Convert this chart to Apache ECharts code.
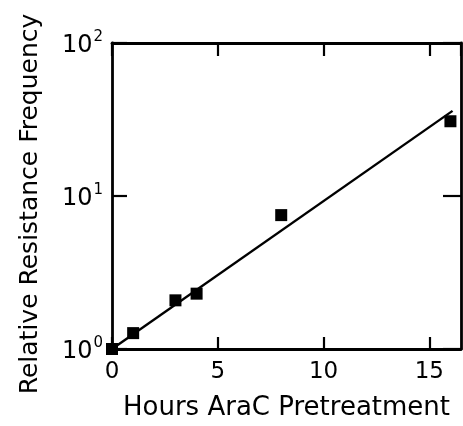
<!DOCTYPE html>
<html>
<head>
<meta charset="utf-8">
<script src="https://cdn.jsdelivr.net/npm/echarts@6/dist/echarts.min.js"></script>
<style>
  html, body { margin: 0; padding: 0; background: #ffffff; }
  #chart { width: 463px; height: 426px; }
</style>
</head>
<body>
<div id="chart"></div>
<script>
// Data
const hours = [0, 1, 3, 4, 8, 16];
const frequency = [1.0, 1.27, 2.08, 2.30, 7.5, 30.8];
const fitHours = [0, 16.1];
const fitFrequency = [1.0, 36];
const xTickLabels = ['0', '5', '10', '15'];
const yTickExponents = ['0', '1', '2'];
const xTitle = 'Hours AraC Pretreatment';
const yTitle = 'Relative Resistance Frequency';

const FONT = 'DejaVu Sans';
const INK = '#000000';

const points = hours.map((h, i) => [h, frequency[i]]);
const fit = fitHours.map((h, i) => [h, fitFrequency[i]]);

const chart = echarts.init(document.getElementById('chart'), null, { renderer: 'canvas' });

const axisLine = { show: true, onZero: false, lineStyle: { color: INK, width: 2.8 } };

chart.setOption({
  backgroundColor: '#ffffff',
  animation: false,
  grid: { left: 112, top: 43, right: 2, bottom: 74, containLabel: false },
  xAxis: [
    {
      type: 'value', position: 'bottom', min: 0, max: 16.5, interval: 5,
      axisLine: axisLine,
      axisTick: { show: true, inside: true, length: 12, lineStyle: { color: INK, width: 2.2 } },
      splitLine: { show: false },
      axisLabel: {
        show: true, margin: 12, color: INK, fontFamily: FONT, fontSize: 23,
        showMaxLabel: false,
        formatter: v => xTickLabels[Math.round(v / 5)] ?? ''
      },
      name: xTitle, nameLocation: 'middle', nameGap: 46,
      nameTextStyle: { color: INK, fontFamily: FONT, fontSize: 26 }
    },
    {
      type: 'value', position: 'top', min: 0, max: 16.5, interval: 5,
      axisLine: axisLine,
      axisTick: { show: true, inside: true, length: 13, lineStyle: { color: INK, width: 2.2 } },
      axisLabel: { show: false },
      splitLine: { show: false }
    }
  ],
  yAxis: [
    {
      type: 'log', logBase: 10, position: 'left', min: 1, max: 100,
      axisLine: axisLine,
      axisTick: { show: true, inside: true, length: 15, lineStyle: { color: INK, width: 2.2 } },
      minorTick: { show: false },
      splitLine: { show: false },
      axisLabel: {
        show: true, margin: 9, color: INK, fontFamily: FONT,
        formatter: v => '{b|10}{s|' + yTickExponents[Math.round(Math.log10(v))] + '}',
        rich: {
          b: { fontFamily: FONT, fontSize: 24, color: INK, lineHeight: 26, padding: [6, 0, 0, 0] },
          s: { fontFamily: FONT, fontSize: 15, color: INK, verticalAlign: 'top', padding: [0, 0, 0, 1] }
        }
      },
      name: yTitle, nameLocation: 'middle', nameGap: 69,
      nameTextStyle: { color: INK, fontFamily: FONT, fontSize: 25, padding: [0, 16, 0, 0] }
    },
    {
      type: 'log', logBase: 10, position: 'right', min: 1, max: 100,
      axisLine: axisLine,
      axisTick: { show: true, inside: true, length: 18, lineStyle: { color: INK, width: 2.2 } },
      axisLabel: { show: false },
      splitLine: { show: false }
    }
  ],
  series: [
    {
      type: 'line', xAxisIndex: 0, yAxisIndex: 0,
      data: fit, showSymbol: false, symbol: 'none', clip: false,
      lineStyle: { color: INK, width: 2.4, opacity: 1 }
    },
    {
      type: 'scatter', xAxisIndex: 0, yAxisIndex: 0,
      data: points, symbol: 'rect', symbolSize: 12, clip: false,
      itemStyle: { color: INK, opacity: 1 }
    }
  ]
});
</script>
</body>
</html>
